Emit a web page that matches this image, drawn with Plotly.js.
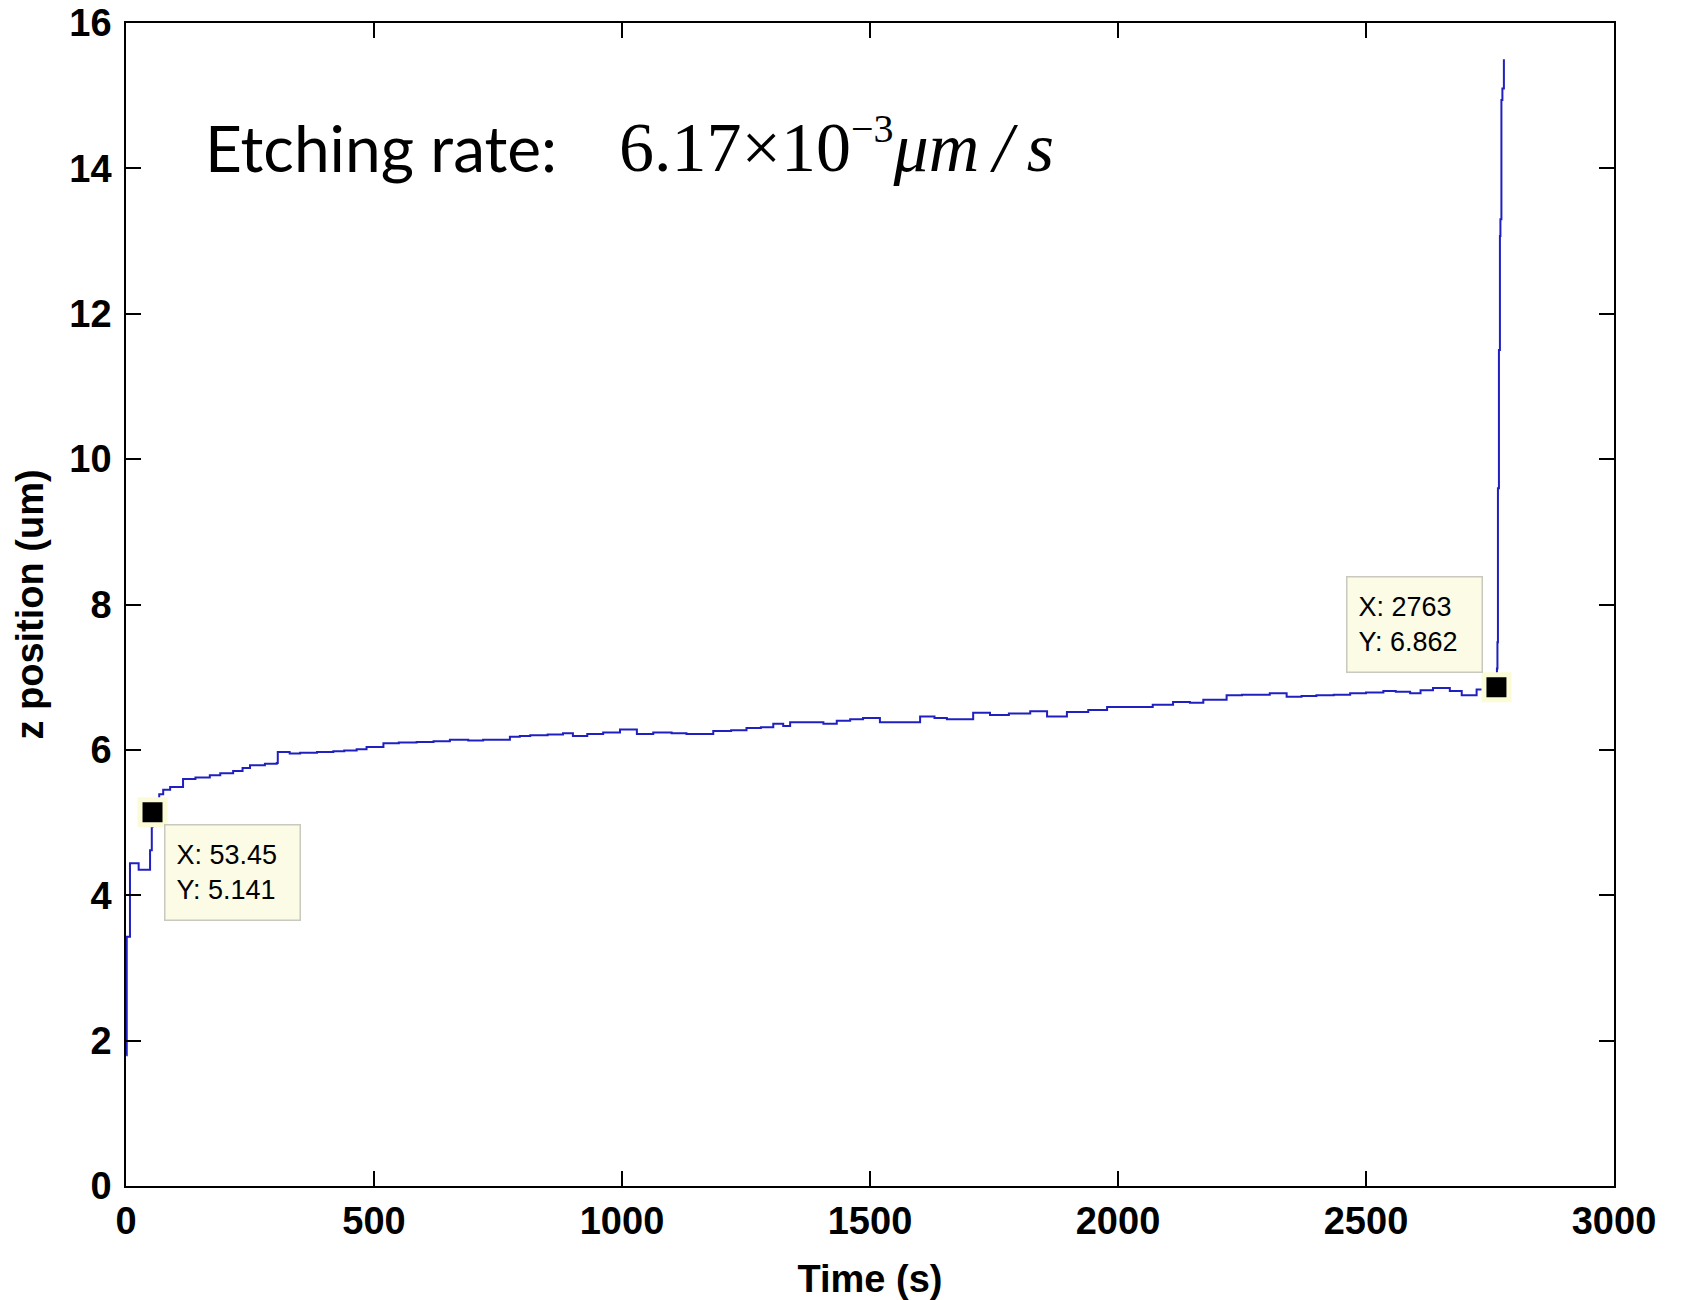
<!DOCTYPE html>
<html>
<head>
<meta charset="utf-8">
<script src="https://cdn.plot.ly/plotly-3.0.1.min.js"></script>
<style>
  html, body { margin: 0; padding: 0; background: #ffffff; }
  #chart { width: 1681px; height: 1300px; }
</style>
</head>
<body>
<div id="chart"></div>
<script>
// ---- data ----
const timeS = [0.5, 1.5, 2, 8, 25, 25.5, 47, 48.5, 51.5, 52, 53.45, 67, 75, 89, 115, 140, 169, 190, 216, 235, 250, 280, 304, 306, 330, 351, 385, 418, 440, 465, 485, 519, 550, 586, 620, 653, 690, 720, 774, 794, 815, 850, 881, 901, 930, 962, 996, 1030, 1063, 1100, 1130, 1184, 1220, 1251, 1280, 1305, 1325, 1339, 1386, 1406, 1433, 1460, 1486, 1520, 1560, 1601, 1630, 1655, 1708, 1742, 1780, 1823, 1857, 1897, 1940, 1978, 2024, 2070, 2111, 2145, 2172, 2219, 2250, 2280, 2306, 2340, 2370, 2400, 2435, 2468, 2500, 2535, 2560, 2589, 2610, 2635, 2669, 2693, 2723, 2745, 2763, 2764, 2765, 2766, 2768, 2770, 2771, 2773, 2775, 2778];
const zPos = [1.80, 3.43, 3.43, 4.44, 4.44, 4.35, 4.35, 4.62, 4.62, 4.94, 5.141, 5.39, 5.45, 5.49, 5.60, 5.62, 5.65, 5.68, 5.71, 5.75, 5.79, 5.81, 5.82, 5.97, 5.95, 5.96, 5.97, 5.98, 5.99, 6.01, 6.04, 6.09, 6.10, 6.11, 6.12, 6.14, 6.13, 6.14, 6.18, 6.19, 6.20, 6.21, 6.23, 6.19, 6.22, 6.24, 6.28, 6.22, 6.24, 6.23, 6.22, 6.26, 6.27, 6.30, 6.31, 6.36, 6.33, 6.38, 6.38, 6.36, 6.40, 6.42, 6.44, 6.38, 6.38, 6.46, 6.44, 6.42, 6.51, 6.48, 6.50, 6.53, 6.46, 6.52, 6.55, 6.59, 6.59, 6.62, 6.66, 6.65, 6.69, 6.75, 6.76, 6.76, 6.78, 6.73, 6.74, 6.75, 6.76, 6.78, 6.79, 6.81, 6.80, 6.78, 6.82, 6.85, 6.81, 6.75, 6.83, 6.85, 6.862, 7.12, 7.48, 9.60, 11.50, 13.07, 13.30, 14.94, 15.10, 15.50];

const cursorX = [53.45, 2763];
const cursorY = [5.141, 6.862];
const cursorXLabel = ['53.45', '2763'];
const cursorYLabel = ['5.141', '6.862'];

const xTicks = [0, 500, 1000, 1500, 2000, 2500, 3000];
const yTicks = [0, 2, 4, 6, 8, 10, 12, 14, 16];

const xTitle = 'Time (s)';
const yTitle = 'z position (um)';
const rateLabel = 'Etching rate:';
const rateValue = '6.17×10<sup><span style="font-size:40px">−3</span></sup><i>μm</i>\u2009<i>/</i>\u2009<i>s</i>';

// ---- traces ----
const lineTrace = {
  x: timeS, y: zPos, type: 'scatter', mode: 'lines',
  line: { color: '#2020c0', width: 2, shape: 'hv' },
  hoverinfo: 'x+y', showlegend: false
};
const cursorTrace = {
  x: cursorX, y: cursorY, type: 'scatter', mode: 'markers',
  marker: { symbol: 'square', size: 25, color: '#000000',
            line: { color: '#fbfbd8', width: 5 } },
  showlegend: false, hoverinfo: 'skip'
};

const tipFont = { family: 'Liberation Sans, Arial, sans-serif', size: 27, color: '#000000' };
const tipPlacement = [
  { xanchor: 'left', yanchor: 'top', xshift: 11.5, yshift: -11.7 },
  { xanchor: 'right', yanchor: 'bottom', xshift: -13.4, yshift: 14 }
];
const annotations = cursorX.map((cx, i) => Object.assign({
  x: cx, y: cursorY[i], xref: 'x', yref: 'y',
  text: 'X: ' + cursorXLabel[i] + '<br>Y: ' + cursorYLabel[i],
  showarrow: false, align: 'left',
  font: tipFont,
  bgcolor: '#fbfbe6', bordercolor: '#c9c9c0', borderwidth: 1.5, borderpad: 11,
  width: 112, height: 72
}, tipPlacement[i]));

annotations.push({
  x: 0.0516, y: 0.893, xref: 'paper', yref: 'paper',
  xanchor: 'left', yanchor: 'middle', showarrow: false,
  text: rateLabel,
  font: { family: 'Lato, Open Sans, sans-serif', size: 64, color: '#000000' }
});
annotations.push({
  x: 0.330, y: 0.894, xref: 'paper', yref: 'paper',
  xanchor: 'left', yanchor: 'middle', showarrow: false,
  text: rateValue,
  font: { family: 'Liberation Serif, Times New Roman, serif', size: 70, color: '#000000' }
});

const tickFont = { family: 'Liberation Sans, Arial, sans-serif', size: 38, color: '#000000', weight: 700 };
const titleFont = { family: 'Liberation Sans, Arial, sans-serif', size: 38, color: '#000000', weight: 700 };

const layout = {
  width: 1681, height: 1300,
  margin: { l: 126, r: 67, t: 23, b: 114, pad: 0 },
  paper_bgcolor: '#ffffff', plot_bgcolor: '#ffffff',
  showlegend: false,
  xaxis: {
    range: [0, 3000], tickmode: 'array', tickvals: xTicks, ticktext: xTicks.map(String),
    ticks: 'inside', ticklen: 15, tickwidth: 1.5, tickcolor: '#000000',
    showline: true, linecolor: '#000000', linewidth: 1.5, mirror: 'ticks',
    showgrid: false, zeroline: false,
    tickfont: tickFont, ticklabelstandoff: 1,
    title: { text: xTitle, font: titleFont, standoff: 30 }
  },
  yaxis: {
    range: [0, 16], tickmode: 'array', tickvals: yTicks, ticktext: yTicks.map(String),
    ticks: 'inside', ticklen: 15, tickwidth: 1.5, tickcolor: '#000000',
    showline: true, linecolor: '#000000', linewidth: 1.5, mirror: 'ticks',
    showgrid: false, zeroline: false,
    tickfont: tickFont, ticklabelstandoff: 5,
    title: { text: yTitle, font: titleFont, standoff: 14 }
  },
  annotations: annotations
};

Plotly.newPlot('chart', [lineTrace, cursorTrace], layout, { displayModeBar: false, staticPlot: false });
</script>
</body>
</html>
